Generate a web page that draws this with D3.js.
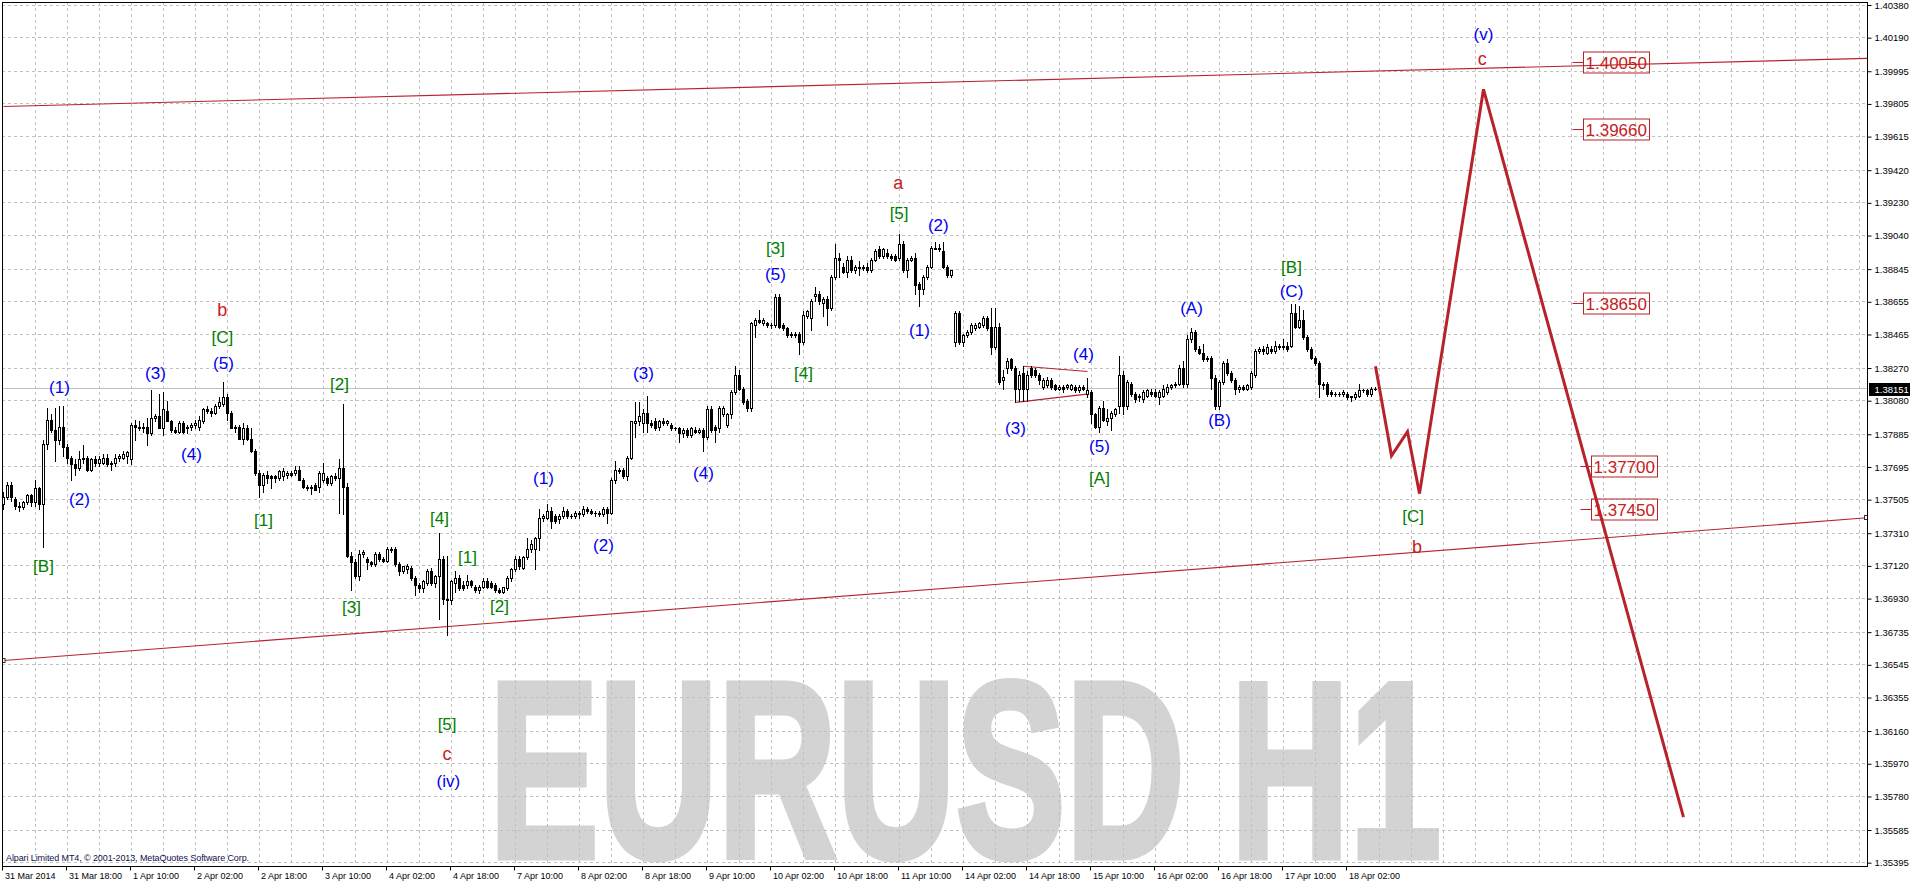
<!DOCTYPE html>
<html>
<head>
<meta charset="utf-8">
<script src="https://cdn.jsdelivr.net/npm/d3@7"></script>
<style>
  body { margin: 0; background: #fff; overflow: hidden; }
  svg { display: block; }
</style>
</head>
<body>
<div id="chart"></div>
<script>
// Time axis labels, one every 16 hourly bars
const timeLabels = ["31 Mar 2014", "31 Mar 18:00", "1 Apr 10:00", "2 Apr 02:00", "2 Apr 18:00", "3 Apr 10:00",
  "4 Apr 02:00", "4 Apr 18:00", "7 Apr 10:00", "8 Apr 02:00", "8 Apr 18:00", "9 Apr 10:00", "10 Apr 02:00",
  "10 Apr 18:00", "11 Apr 10:00", "14 Apr 02:00", "14 Apr 18:00", "15 Apr 10:00", "16 Apr 02:00",
  "16 Apr 18:00", "17 Apr 10:00", "18 Apr 02:00"];

// Price scale labels on the right
const priceTicks = [1.40380, 1.40190, 1.39995, 1.39805, 1.39615, 1.39420, 1.39230, 1.39040, 1.38845,
  1.38655, 1.38465, 1.38270, 1.38080, 1.37885, 1.37695, 1.37505, 1.37310, 1.37120, 1.36930, 1.36735,
  1.36545, 1.36355, 1.36160, 1.35970, 1.35780, 1.35585, 1.35395];

const lastPrice = 1.38151;

// EURUSD H1 candles: open, high, low, close
const candles = [
  [1.3748,1.3755,1.3745,1.3752],[1.3752,1.3761,1.3751,1.3759],[1.3759,1.3761,1.3750,1.3752],[1.3751,1.3752,1.3745,1.3747],
  [1.3747,1.3749,1.3744,1.3746],[1.3746,1.3750,1.3745,1.3749],[1.3749,1.3754,1.3748,1.3753],[1.3753,1.3754,1.3747,1.3749],
  [1.3749,1.3762,1.3747,1.3757],[1.3757,1.3758,1.3745,1.3748],[1.3748,1.3785,1.3723,1.3783],[1.3783,1.3804,1.3780,1.3797],
  [1.3797,1.3800,1.3790,1.3791],[1.3791,1.3804,1.3773,1.3785],[1.3785,1.3805,1.3783,1.3793],[1.3793,1.3805,1.3776,1.3781],
  [1.3781,1.3783,1.3772,1.3775],[1.3775,1.3776,1.3762,1.3771],[1.3771,1.3774,1.3765,1.3769],[1.3769,1.3779,1.3768,1.3774],
  [1.3774,1.3782,1.3772,1.3775],[1.3775,1.3776,1.3767,1.3768],[1.3768,1.3775,1.3767,1.3774],[1.3774,1.3776,1.3770,1.3772],
  [1.3772,1.3776,1.3770,1.3774],[1.3772,1.3777,1.3771,1.3775],[1.3775,1.3777,1.3770,1.3771],[1.3771,1.3773,1.3768,1.3772],
  [1.3772,1.3777,1.3770,1.3775],[1.3775,1.3777,1.3773,1.3776],[1.3775,1.3779,1.3774,1.3777],[1.3776,1.3779,1.3772,1.3778],
  [1.3774,1.3795,1.3771,1.3794],[1.3794,1.3797,1.3785,1.3793],[1.3793,1.3796,1.3791,1.3792],[1.3792,1.3795,1.3790,1.3793],
  [1.3793,1.3798,1.3782,1.3789],[1.3789,1.3814,1.3788,1.3798],[1.3798,1.3800,1.3796,1.3799],[1.3799,1.3812,1.3792,1.3792],
  [1.3792,1.3813,1.3788,1.3803],[1.3802,1.3808,1.3796,1.3796],[1.3796,1.3797,1.3790,1.3791],[1.3791,1.3793,1.3789,1.3790],
  [1.3790,1.3796,1.3789,1.3795],[1.3795,1.3796,1.3789,1.3790],[1.3792,1.3794,1.3789,1.3793],[1.3793,1.3795,1.3791,1.3794],
  [1.3794,1.3797,1.3792,1.3795],[1.3793,1.3799,1.3791,1.3797],[1.3796,1.3804,1.3795,1.3803],[1.3803,1.3805,1.3801,1.3802],
  [1.3802,1.3804,1.3799,1.3801],[1.3801,1.3806,1.3800,1.3805],[1.3805,1.3810,1.3804,1.3807],[1.3806,1.3819,1.3805,1.3810],
  [1.3810,1.3812,1.3797,1.3801],[1.3801,1.3802,1.3792,1.3792],[1.3792,1.3794,1.3790,1.3793],[1.3793,1.3794,1.3786,1.3786],
  [1.3786,1.3795,1.3783,1.3792],[1.3792,1.3794,1.3785,1.3786],[1.3786,1.3792,1.3778,1.3779],[1.3779,1.3780,1.3765,1.3766],
  [1.3766,1.3768,1.3752,1.3759],[1.3759,1.3766,1.3755,1.3765],[1.3765,1.3767,1.3760,1.3763],[1.3764,1.3765,1.3757,1.3763],
  [1.3764,1.3765,1.3761,1.3763],[1.3763,1.3768,1.3762,1.3767],[1.3764,1.3769,1.3762,1.3767],[1.3765,1.3767,1.3763,1.3766],
  [1.3766,1.3767,1.3764,1.3765],[1.3766,1.3770,1.3765,1.3768],[1.3768,1.3770,1.3762,1.3762],[1.3762,1.3763,1.3757,1.3758],
  [1.3758,1.3759,1.3756,1.3757],[1.3757,1.3759,1.3754,1.3758],[1.3759,1.3760,1.3756,1.3756],[1.3758,1.3767,1.3755,1.3766],
  [1.3762,1.3772,1.3761,1.3766],[1.3763,1.3764,1.3759,1.3760],[1.3760,1.3765,1.3759,1.3764],[1.3764,1.3766,1.3762,1.3763],
  [1.3763,1.3774,1.3743,1.3769],[1.3769,1.3806,1.3742,1.3758],[1.3758,1.3760,1.3717,1.3718],[1.3718,1.3720,1.3698,1.3714],
  [1.3714,1.3716,1.3705,1.3706],[1.3706,1.3721,1.3704,1.3719],[1.3719,1.3721,1.3717,1.3720],[1.3716,1.3717,1.3710,1.3714],
  [1.3714,1.3715,1.3712,1.3713],[1.3713,1.3720,1.3712,1.3719],[1.3719,1.3720,1.3715,1.3716],[1.3716,1.3717,1.3714,1.3715],
  [1.3715,1.3723,1.3714,1.3722],[1.3722,1.3723,1.3720,1.3721],[1.3722,1.3723,1.3712,1.3713],[1.3713,1.3714,1.3707,1.3709],
  [1.3709,1.3712,1.3708,1.3712],[1.3710,1.3713,1.3708,1.3712],[1.3711,1.3712,1.3704,1.3705],[1.3705,1.3706,1.3695,1.3701],
  [1.3701,1.3702,1.3697,1.3699],[1.3699,1.3704,1.3697,1.3703],[1.3702,1.3710,1.3701,1.3709],[1.3709,1.3711,1.3701,1.3702],
  [1.3702,1.3707,1.3700,1.3706],[1.3706,1.3731,1.3681,1.3716],[1.3716,1.3718,1.3690,1.3693],[1.3693,1.3718,1.3672,1.3692],
  [1.3692,1.3704,1.3690,1.3703],[1.3702,1.3709,1.3697,1.3705],[1.3705,1.3707,1.3698,1.3699],[1.3701,1.3703,1.3698,1.3699],
  [1.3701,1.3707,1.3699,1.3703],[1.3703,1.3704,1.3700,1.3701],[1.3700,1.3701,1.3697,1.3698],[1.3698,1.3701,1.3696,1.3700],
  [1.3700,1.3705,1.3699,1.3703],[1.3703,1.3705,1.3699,1.3700],[1.3702,1.3703,1.3699,1.3700],[1.3701,1.3702,1.3697,1.3698],
  [1.3698,1.3699,1.3696,1.3697],[1.3697,1.3700,1.3696,1.3700],[1.3699,1.3706,1.3698,1.3705],[1.3705,1.3711,1.3703,1.3710],
  [1.3710,1.3718,1.3709,1.3716],[1.3716,1.3718,1.3710,1.3712],[1.3711,1.3718,1.3710,1.3717],[1.3717,1.3728,1.3716,1.3722],
  [1.3722,1.3727,1.3720,1.3725],[1.3722,1.3729,1.3710,1.3728],[1.3728,1.3745,1.3721,1.3740],[1.3740,1.3742,1.3738,1.3741],
  [1.3740,1.3748,1.3739,1.3744],[1.3744,1.3746,1.3734,1.3738],[1.3741,1.3742,1.3737,1.3738],[1.3739,1.3742,1.3737,1.3741],
  [1.3741,1.3746,1.3740,1.3744],[1.3744,1.3745,1.3740,1.3741],[1.3741,1.3742,1.3740,1.3741],[1.3741,1.3744,1.3740,1.3743],
  [1.3742,1.3744,1.3740,1.3743],[1.3742,1.3747,1.3741,1.3745],[1.3745,1.3746,1.3743,1.3744],[1.3744,1.3745,1.3742,1.3743],
  [1.3743,1.3744,1.3741,1.3743],[1.3743,1.3744,1.3741,1.3742],[1.3742,1.3746,1.3741,1.3745],[1.3745,1.3746,1.3737,1.3743],
  [1.3743,1.3763,1.3742,1.3762],[1.3762,1.3773,1.3760,1.3768],[1.3768,1.3769,1.3766,1.3767],[1.3768,1.3769,1.3763,1.3764],
  [1.3764,1.3776,1.3762,1.3775],[1.3775,1.3796,1.3774,1.3796],[1.3795,1.3807,1.3787,1.3796],[1.3796,1.3807,1.3794,1.3799],
  [1.3795,1.3803,1.3790,1.3801],[1.3801,1.3811,1.3790,1.3795],[1.3795,1.3797,1.3793,1.3794],[1.3796,1.3798,1.3791,1.3792],
  [1.3793,1.3797,1.3791,1.3796],[1.3796,1.3798,1.3794,1.3795],[1.3795,1.3797,1.3794,1.3796],[1.3794,1.3795,1.3791,1.3792],
  [1.3792,1.3793,1.3791,1.3792],[1.3792,1.3793,1.3784,1.3789],[1.3789,1.3792,1.3787,1.3791],[1.3791,1.3792,1.3787,1.3788],
  [1.3788,1.3793,1.3787,1.3792],[1.3791,1.3793,1.3789,1.3790],[1.3790,1.3792,1.3789,1.3791],[1.3791,1.3792,1.3779,1.3787],
  [1.3787,1.3805,1.3786,1.3803],[1.3803,1.3805,1.3790,1.3791],[1.3793,1.3794,1.3784,1.3791],[1.3792,1.3805,1.3790,1.3804],
  [1.3800,1.3805,1.3799,1.3804],[1.3794,1.3801,1.3793,1.3800],[1.3800,1.3814,1.3798,1.3813],[1.3813,1.3828,1.3812,1.3823],
  [1.3823,1.3826,1.3814,1.3815],[1.3815,1.3816,1.3806,1.3807],[1.3808,1.3809,1.3802,1.3804],[1.3804,1.3854,1.3802,1.3853],
  [1.3852,1.3856,1.3845,1.3855],[1.3855,1.3861,1.3853,1.3854],[1.3853,1.3856,1.3852,1.3855],[1.3853,1.3854,1.3851,1.3852],
  [1.3852,1.3853,1.3850,1.3852],[1.3852,1.3870,1.3851,1.3868],[1.3868,1.3870,1.3850,1.3851],[1.3852,1.3853,1.3849,1.3850],
  [1.3850,1.3851,1.3845,1.3846],[1.3846,1.3848,1.3845,1.3847],[1.3847,1.3848,1.3845,1.3846],[1.3847,1.3848,1.3835,1.3842],
  [1.3842,1.3860,1.3841,1.3858],[1.3857,1.3861,1.3856,1.3860],[1.3856,1.3867,1.3849,1.3866],[1.3869,1.3874,1.3866,1.3870],
  [1.3870,1.3872,1.3864,1.3866],[1.3865,1.3868,1.3857,1.3867],[1.3867,1.3869,1.3852,1.3862],[1.3862,1.3881,1.3861,1.3880],
  [1.3880,1.3899,1.3879,1.3891],[1.3891,1.3894,1.3880,1.3890],[1.3886,1.3888,1.3882,1.3883],[1.3883,1.3892,1.3880,1.3890],
  [1.3890,1.3892,1.3883,1.3884],[1.3884,1.3887,1.3882,1.3886],[1.3886,1.3889,1.3881,1.3885],[1.3885,1.3887,1.3884,1.3886],
  [1.3886,1.3888,1.3883,1.3884],[1.3884,1.3891,1.3883,1.3890],[1.3890,1.3896,1.3889,1.3895],[1.3896,1.3898,1.3891,1.3892],
  [1.3892,1.3897,1.3891,1.3896],[1.3894,1.3896,1.3891,1.3892],[1.3892,1.3893,1.3890,1.3891],[1.3892,1.3893,1.3889,1.3890],
  [1.3891,1.3905,1.3890,1.3899],[1.3899,1.3901,1.3883,1.3884],[1.3884,1.3891,1.3880,1.3890],[1.3890,1.3892,1.3889,1.3891],
  [1.3891,1.3894,1.3870,1.3875],[1.3876,1.3877,1.3863,1.3873],[1.3873,1.3881,1.3870,1.3880],[1.3880,1.3887,1.3879,1.3886],
  [1.3886,1.3898,1.3885,1.3897],[1.3897,1.3900,1.3896,1.3896],[1.3897,1.3899,1.3895,1.3896],[1.3895,1.3900,1.3885,1.3886],
  [1.3886,1.3887,1.3880,1.3881],[1.3881,1.3884,1.3880,1.3884],[1.3842,1.3860,1.3840,1.3859],[1.3859,1.3860,1.3841,1.3842],
  [1.3842,1.3847,1.3840,1.3846],[1.3846,1.3849,1.3845,1.3848],[1.3848,1.3853,1.3847,1.3852],[1.3850,1.3853,1.3849,1.3852],
  [1.3851,1.3854,1.3850,1.3853],[1.3852,1.3857,1.3851,1.3856],[1.3856,1.3857,1.3849,1.3850],[1.3851,1.3862,1.3835,1.3839],
  [1.3839,1.3862,1.3838,1.3851],[1.3851,1.3853,1.3818,1.3819],[1.3820,1.3826,1.3815,1.3822],[1.3827,1.3833,1.3824,1.3831],
  [1.3832,1.3833,1.3826,1.3827],[1.3827,1.3828,1.3807,1.3815],[1.3815,1.3825,1.3808,1.3823],[1.3824,1.3828,1.3808,1.3815],
  [1.3815,1.3825,1.3808,1.3823],[1.3827,1.3828,1.3822,1.3823],[1.3826,1.3827,1.3822,1.3823],[1.3823,1.3824,1.3818,1.3820],
  [1.3816,1.3821,1.3815,1.3820],[1.3817,1.3822,1.3816,1.3820],[1.3820,1.3821,1.3815,1.3816],[1.3817,1.3818,1.3814,1.3815],
  [1.3815,1.3817,1.3814,1.3816],[1.3816,1.3817,1.3813,1.3815],[1.3816,1.3818,1.3815,1.3817],[1.3815,1.3818,1.3814,1.3817],
  [1.3816,1.3817,1.3813,1.3814],[1.3814,1.3817,1.3813,1.3816],[1.3816,1.3817,1.3814,1.3815],[1.3812,1.3821,1.3810,1.3814],
  [1.3813,1.3814,1.3795,1.3800],[1.3800,1.3801,1.3792,1.3793],[1.3793,1.3805,1.3790,1.3804],[1.3804,1.3808,1.3796,1.3797],
  [1.3796,1.3803,1.3794,1.3798],[1.3798,1.3802,1.3791,1.3801],[1.3800,1.3804,1.3799,1.3803],[1.3805,1.3834,1.3801,1.3823],
  [1.3823,1.3825,1.3800,1.3805],[1.3805,1.3820,1.3803,1.3819],[1.3818,1.3819,1.3811,1.3812],[1.3812,1.3813,1.3807,1.3809],
  [1.3810,1.3812,1.3808,1.3811],[1.3809,1.3814,1.3807,1.3813],[1.3811,1.3815,1.3810,1.3814],[1.3813,1.3815,1.3811,1.3812],
  [1.3813,1.3815,1.3810,1.3811],[1.3810,1.3814,1.3806,1.3813],[1.3811,1.3817,1.3810,1.3815],[1.3813,1.3818,1.3812,1.3816],
  [1.3816,1.3818,1.3815,1.3817],[1.3817,1.3819,1.3816,1.3818],[1.3818,1.3829,1.3817,1.3827],[1.3827,1.3831,1.3816,1.3818],
  [1.3818,1.3846,1.3816,1.3844],[1.3844,1.3850,1.3842,1.3848],[1.3848,1.3849,1.3837,1.3838],[1.3838,1.3840,1.3835,1.3836],
  [1.3836,1.3841,1.3831,1.3832],[1.3832,1.3834,1.3831,1.3833],[1.3833,1.3834,1.3815,1.3821],[1.3821,1.3823,1.3803,1.3805],
  [1.3805,1.3820,1.3803,1.3819],[1.3819,1.3831,1.3818,1.3830],[1.3830,1.3832,1.3823,1.3824],[1.3824,1.3825,1.3819,1.3820],
  [1.3820,1.3821,1.3812,1.3815],[1.3815,1.3817,1.3813,1.3816],[1.3816,1.3817,1.3814,1.3815],[1.3815,1.3818,1.3814,1.3817],
  [1.3816,1.3825,1.3815,1.3824],[1.3823,1.3838,1.3822,1.3837],[1.3837,1.3839,1.3836,1.3838],[1.3838,1.3840,1.3835,1.3837],
  [1.3836,1.3841,1.3835,1.3839],[1.3838,1.3840,1.3836,1.3837],[1.3837,1.3843,1.3836,1.3840],[1.3840,1.3841,1.3838,1.3839],
  [1.3839,1.3844,1.3838,1.3840],[1.3840,1.3842,1.3837,1.3838],[1.3840,1.3864,1.3839,1.3859],[1.3859,1.3864,1.3850,1.3851],
  [1.3851,1.3863,1.3850,1.3855],[1.3855,1.3861,1.3844,1.3845],[1.3845,1.3846,1.3837,1.3838],[1.3838,1.3839,1.3832,1.3833],
  [1.3833,1.3834,1.3829,1.3830],[1.3830,1.3831,1.3810,1.3818],[1.3817,1.3819,1.3815,1.3818],[1.3818,1.3819,1.3811,1.3812],
  [1.3813,1.3814,1.3811,1.3812],[1.3812,1.3813,1.3811,1.3812],[1.3812,1.3813,1.3811,1.3812],[1.3812,1.3814,1.3811,1.3813],
  [1.3812,1.3813,1.3809,1.3810],[1.3810,1.3811,1.3808,1.3811],[1.3810,1.3813,1.3809,1.3812],[1.3811,1.3818,1.3810,1.3814],
  [1.3814,1.3815,1.3813,1.3814],[1.3814,1.3815,1.3811,1.3812],[1.3812,1.3816,1.3811,1.3815],[1.3815,1.3816,1.3814,1.3815]
];

// Elliott wave marks: text, bar index, price, colour group
const waveLabels = [
  ["(1)", 14, 1.3816, "blue"], ["(2)", 19, 1.3751, "blue"], ["(3)", 38, 1.3824, "blue"],
  ["(4)", 47, 1.3777, "blue"], ["(5)", 55, 1.3830, "blue"], ["[C]", 54.7, 1.3845, "green"],
  ["b", 54.7, 1.3861, "red"], ["[B]", 10, 1.3712, "green"], ["[1]", 65, 1.3739, "green"],
  ["[2]", 84, 1.3818, "green"], ["[3]", 87, 1.3688, "green"], ["[4]", 109, 1.3740, "green"],
  ["[1]", 116, 1.3717, "green"], ["[2]", 124, 1.3689, "green"], ["[5]", 110.9, 1.3620, "green"],
  ["c", 110.9, 1.3603, "red"], ["(iv)", 111.2, 1.3587, "blue"], ["(1)", 135, 1.3763, "blue"],
  ["(2)", 150, 1.3724, "blue"], ["(3)", 160, 1.3824, "blue"], ["(4)", 175, 1.3766, "blue"],
  ["[3]", 193, 1.3897, "green"], ["(5)", 193, 1.3882, "blue"], ["[4]", 200, 1.3824, "green"],
  ["a", 223.7, 1.3935, "red"], ["[5]", 223.9, 1.3917, "green"], ["(2)", 233.7, 1.3910, "blue"],
  ["(1)", 229, 1.3849, "blue"], ["(3)", 253, 1.3792, "blue"], ["(4)", 270, 1.3835, "blue"],
  ["(5)", 274, 1.3782, "blue"], ["[A]", 274, 1.3763, "green"], ["(A)", 297, 1.3862, "blue"],
  ["(B)", 304, 1.3797, "blue"], ["[B]", 322, 1.3886, "green"], ["(C)", 322, 1.3872, "blue"],
  ["(v)", 370, 1.4021, "blue"], ["c", 369.7, 1.4007, "red"], ["[C]", 352.4, 1.3741, "green"],
  ["b", 353.4, 1.3723, "red"]
];

// Projected path (bar index, price)
const forecastPath = [[343, 1.3828], [347, 1.3776], [351, 1.3790], [354, 1.3754], [370, 1.3989], [420, 1.3566]];

// Channel lines (bar index, price pairs)
const channelLines = [
  [[0, 1.3979], [466, 1.4007]],
  [[0, 1.3657], [466, 1.3740]]
];

// Small contracting triangle around (4)
const triangleLines = [
  [[255, 1.3828], [271, 1.3825]],
  [[253, 1.3807], [271.3, 1.3812]]
];

// Target levels: price, anchor bar
const targetLevels = [[1.40050, 395], [1.39660, 395], [1.38650, 395], [1.37700, 397], [1.37450, 397]];

const colors = { blue: "#0000f0", green: "#008000", red: "#c82020" };
const lineRed = "#b8232b";
const font = "'Liberation Sans', Arial, sans-serif";

const width = 1910, height = 884;
const plot = { left: 2, top: 2, right: 1867, bottom: 866 };

const svg = d3.select("#chart").append("svg")
    .attr("width", width)
    .attr("height", height)
    .style("font-family", font);

svg.append("rect").attr("width", width).attr("height", height).attr("fill", "#fff");

// Scales: 4 px per hourly bar, price axis linear
const x = d3.scaleLinear().domain([0, 466]).range([3.5, 3.5 + 4 * 466]);
const y = d3.scaleLinear().domain([1.35395, 1.40380]).range([862.7, 5]);

svg.append("clipPath").attr("id", "plotClip")
  .append("rect")
    .attr("x", plot.left).attr("y", plot.top)
    .attr("width", plot.right - plot.left).attr("height", plot.bottom - plot.top);

const inner = svg.append("g").attr("clip-path", "url(#plotClip)");

// Watermark (heavy, narrow letters)
inner.append("text")
    .attr("x", 489)
    .attr("y", 857)
    .attr("textLength", 952)
    .attr("lengthAdjust", "spacingAndGlyphs")
    .style("font-size", "250px")
    .style("font-weight", "bold")
    .attr("fill", "#d3d3d3")
    .attr("stroke", "#d3d3d3")
    .attr("stroke-width", 7)
    .attr("stroke-linejoin", "miter")
    .text("EURUSD H1");

// Grid
const half = v => Math.round(v - 0.5) + 0.5;
inner.append("g").selectAll("line")
  .data(priceTicks)
  .join("line")
    .attr("x1", plot.left).attr("x2", plot.right)
    .attr("y1", d => half(y(d))).attr("y2", d => half(y(d)))
    .attr("stroke", "#c0c0c0")
    .attr("stroke-dasharray", "3,3");

inner.append("g").selectAll("line")
  .data(d3.range(8, 466, 8))
  .join("line")
    .attr("x1", d => x(d)).attr("x2", d => x(d))
    .attr("y1", plot.top).attr("y2", plot.bottom)
    .attr("stroke", "#c0c0c0")
    .attr("stroke-dasharray", "3,3");

// Bid line
inner.append("line")
    .attr("x1", plot.left).attr("x2", plot.right)
    .attr("y1", half(y(lastPrice))).attr("y2", half(y(lastPrice)))
    .attr("stroke", "#c0c0c0");

// Channel and triangle lines
const seg = d3.line().x(d => x(d[0])).y(d => y(d[1]));
channelLines.concat(triangleLines).forEach(l => {
  inner.append("path")
      .attr("d", seg(l))
      .attr("fill", "none")
      .attr("stroke", lineRed)
      .attr("stroke-width", 1.1);
});
// anchor squares of the lower channel line
channelLines[1].forEach(p => {
  inner.append("rect")
      .attr("x", Math.min(x(p[0]), plot.right) - 2.5).attr("y", Math.round(y(p[1])) - 2.5)
      .attr("width", 4).attr("height", 4)
      .attr("fill", "#fff").attr("stroke", "#333");
});

// Candles
const bars = inner.append("g")
  .selectAll("g")
  .data(candles)
  .join("g");

bars.append("line")
    .attr("x1", (d, i) => x(i)).attr("x2", (d, i) => x(i))
    .attr("y1", d => Math.round(y(d[1])))
    .attr("y2", d => Math.round(y(d[2])) + 1)
    .attr("stroke", "#000");

bars.each(function(d, i) {
  const [o, h, l, c] = d;
  const top = Math.round(y(Math.max(o, c)));
  const bot = Math.round(y(Math.min(o, c)));
  const g = d3.select(this);
  if (c > o && bot - top >= 2) {
    g.append("rect")
        .attr("x", x(i) - 1).attr("y", top + 0.5)
        .attr("width", 2).attr("height", bot - top)
        .attr("fill", "#fff").attr("stroke", "#000");
  } else {
    g.append("rect")
        .attr("x", x(i) - 1.5).attr("y", top)
        .attr("width", 3).attr("height", Math.max(1, bot - top + 1))
        .attr("fill", "#000");
  }
});

// Forecast path
inner.append("path")
    .datum(forecastPath)
    .attr("d", d3.line().x(d => x(d[0])).y(d => y(d[1])))
    .attr("fill", "none")
    .attr("stroke", lineRed)
    .attr("stroke-width", 3)
    .attr("stroke-linejoin", "miter");

// Target level boxes
targetLevels.forEach(([p, b]) => {
  const bx = x(b), by = Math.round(y(p));
  inner.append("line")
      .attr("x1", bx - 11).attr("x2", bx)
      .attr("y1", by + 0.5).attr("y2", by + 0.5)
      .attr("stroke", lineRed);
  inner.append("rect")
      .attr("x", bx).attr("y", by - 10)
      .attr("width", 66).attr("height", 21)
      .attr("fill", "none").attr("stroke", lineRed);
  inner.append("text")
      .attr("x", bx + 2).attr("y", by + 6.5)
      .attr("fill", colors.red)
      .style("font-size", "17px")
      .text(p.toFixed(5));
});

// Wave labels
inner.append("g").selectAll("text")
  .data(waveLabels)
  .join("text")
    .attr("x", d => x(d[1]))
    .attr("y", d => y(d[2]))
    .attr("dy", "0.36em")
    .attr("text-anchor", "middle")
    .attr("fill", d => colors[d[3]])
    .style("font-size", d => d[3] === "red" ? "18px" : "17px")
    .text(d => d[0]);

// Copyright line
inner.append("text")
    .attr("x", 6).attr("y", 861)
    .attr("fill", "#10104a")
    .style("font-size", "9px")
    .style("letter-spacing", "-0.1px")
    .text("Alpari Limited MT4, \u00a9 2001-2013, MetaQuotes Software Corp.");

// Frame
svg.append("rect")
    .attr("x", plot.left + 0.5).attr("y", plot.top + 0.5)
    .attr("width", plot.right - plot.left).attr("height", plot.bottom - plot.top)
    .attr("fill", "none").attr("stroke", "#000");

// Right price axis
const yAxis = svg.append("g")
    .attr("transform", `translate(${plot.right + 0.5},0)`)
    .call(d3.axisRight(y).tickValues(priceTicks).tickFormat(d3.format(".5f")).tickSize(4).tickPadding(3));
yAxis.select(".domain").remove();
yAxis.selectAll("text").style("font-size", "9.5px").style("font-family", font).attr("fill", "#000");
yAxis.selectAll("line").attr("stroke", "#000");

// Current price tag
svg.append("rect")
    .attr("x", plot.right + 2).attr("y", Math.round(y(lastPrice)) - 6)
    .attr("width", width - plot.right - 2).attr("height", 13)
    .attr("fill", "#000");
svg.append("text")
    .attr("x", plot.right + 7.5).attr("y", Math.round(y(lastPrice)) + 4)
    .attr("fill", "#fff")
    .style("font-size", "9.5px")
    .text(lastPrice.toFixed(5));

// Bottom time axis
const xAxis = svg.append("g")
    .attr("transform", `translate(0,${plot.bottom + 0.5})`)
    .call(d3.axisBottom(x).tickValues(timeLabels.map((d, i) => i * 16))
      .tickFormat((d, i) => timeLabels[i]).tickSize(4).tickPadding(2));
xAxis.select(".domain").remove();
xAxis.selectAll("line").attr("stroke", "#000").attr("transform", "translate(-1.5,0)");
xAxis.selectAll("text")
    .attr("text-anchor", "start")
    .attr("x", 1)
    .style("font-size", "9px")
    .style("font-family", font)
    .attr("fill", "#000");
</script>
</body>
</html>
